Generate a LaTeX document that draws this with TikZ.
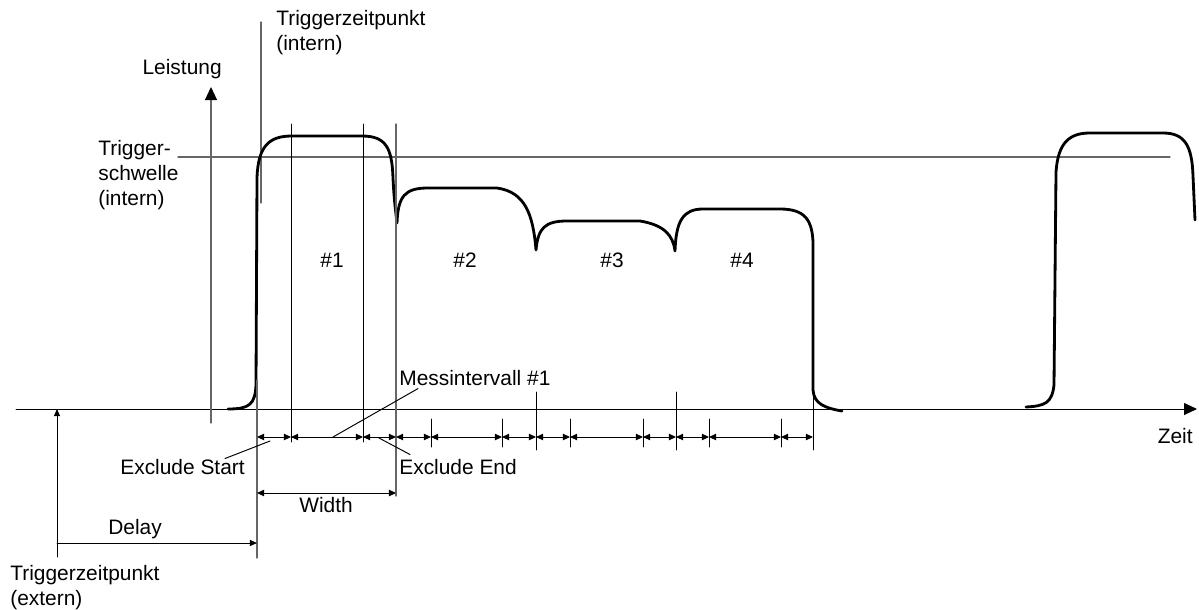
\documentclass[tikz,border=0pt]{standalone}
\usepackage{fontspec}
\setmainfont{Liberation Sans}
\usetikzlibrary{arrows.meta,calc}

\begin{document}
\begin{tikzpicture}[x=0.02cm,y=-0.02cm,line cap=round,line join=round,
		pulse/.style={line width=1.6pt},
		fine/.style={line width=0.55pt},
		greyline/.style={black!60,line width=0.65pt},
		dimarrow/.style={fine,{Triangle[length=4pt,width=3.6pt]}-{Triangle[length=4pt,width=3.6pt]}},
		onearrow/.style={fine,-{Triangle[length=4pt,width=3.4pt]}},
		axisarrow/.style={-{Triangle[length=7.4pt,width=6.8pt,color=black]}},
		lbl/.style={font=\fontsize{11.9}{14.2}\selectfont,inner sep=0pt}]
		\useasboundingbox (0,0) rectangle (1199,609);
		% axes
		\coordinate (t0) at (16,409);
		\coordinate (t1) at (1197,409);
		\coordinate (p0) at (211,423);
		\coordinate (p1) at (211,87);
		\draw[fine,axisarrow] (t0) -- (t1);
		\draw[greyline,axisarrow] (p0) -- (p1);
		\node[lbl,anchor=base east] (leistung) at (222,74) {Leistung};
		\node[lbl,anchor=base east] (zeit) at (1193,443) {Zeit};
		% trigger threshold
		\coordinate (s0) at (178,157);
		\coordinate (s1) at (1170,157);
		\draw[greyline] (s0) -- (s1);
		\node[lbl,anchor=north west,align=left] (schwelle) at (98,140) {Trigger-\\schwelle\\(intern)};
		% internal trigger
		\coordinate (ti0) at (261,22);
		\coordinate (ti1) at (261,203);
		\draw[greyline] (ti0) -- (ti1);
		\node[lbl,anchor=north west,align=left] (tintern) at (276,10) {Triggerzeitpunkt\\(intern)};
		% pulses
		\draw[pulse] (228,409) .. controls (250,409) and (255,404) .. (256,385) -- (257,178)
			.. controls (258,145) and (270,136) .. (292,136) -- (362,136)
			.. controls (386,136) and (392,148) .. (393,178) .. controls (394,200) and (396,214) .. (397,223)
			.. controls (398,196) and (405,188) .. (428,188) -- (497,188)
			.. controls (525,192) and (533,214) .. (536,250)
			.. controls (538,228) and (545,221) .. (567,221) -- (640,221)
			.. controls (664,225) and (673,235) .. (675,251)
			.. controls (676,221) and (683,209) .. (703,209) -- (780,209)
			.. controls (805,209) and (812,220) .. (813,242) -- (813,390)
			.. controls (814,404) and (825,408) .. (842,411);
		\draw[pulse] (1026,407) .. controls (1045,406) and (1052,403) .. (1054,385) -- (1056,172)
			.. controls (1058,142) and (1070,133) .. (1090,133) -- (1163,133)
			.. controls (1185,133) and (1192,146) .. (1193,176) -- (1195,220);
		\node[lbl,anchor=base] (n1) at (332,267) {\#1};
		\node[lbl,anchor=base] (n2) at (465,267) {\#2};
		\node[lbl,anchor=base] (n3) at (612,267) {\#3};
		\node[lbl,anchor=base] (n4) at (742,267) {\#4};
		% measurement lines
		\draw[greyline] (257,380) -- (257,558);
		\draw[fine] (291,124) -- (291,442);
		\draw[fine] (363,124) -- (363,442);
		\draw[greyline] (396,124) -- (396,496);
		\foreach \x in {536,676}
			\draw[fine] (\x,392) -- (\x,450);
		\draw[fine] (813,392) -- (813,450);
		\foreach \x in {431,502,570,643,709,781}
			\draw[fine] (\x,419) -- (\x,447);
		% interval arrows
		\foreach \a/\b in {257/291,291/363,363/396,396/431,431/502,502/536,536/570,570/643,643/676,676/709,709/781,781/813}
			\draw[dimarrow] (\a,437) -- (\b,437);
		\coordinate (w0) at (257,493);
		\coordinate (w1) at (396,493);
		\draw[dimarrow] (w0) -- (w1);
		\node[lbl,anchor=base] (width) at (326,512) {Width};
		% labels with leaders
		\node[lbl,anchor=base west] (exstart) at (120,474) {Exclude Start};
		\node[lbl,anchor=base west] (exend) at (399,474) {Exclude End};
		\node[lbl,anchor=base west] (messint) at (399,385) {Messintervall \#1};
		\coordinate (l1) at (270,441);
		\coordinate (l2) at (379,438);
		\coordinate (l3) at (333,437);
		\draw[fine] ($(exstart.north east)+(-20,0)$) -- (l1);
		\draw[fine] ($(exend.north west)+(11,-4)$) -- (l2);
		\draw[fine] ($(messint.south west)+(19,3)$) -- (l3);
		% external trigger and delay
		\coordinate (te0) at (57,557);
		\coordinate (te1) at (57,409);
		\draw[onearrow] (te0) -- (te1);
		\coordinate (d1) at (257,543);
		\draw[onearrow] (57,543) -- (d1);
		\node[lbl,anchor=base west] (delay) at (108,534) {Delay};
		\node[lbl,anchor=north west,align=left] (textern) at (10,565) {Triggerzeitpunkt\\(extern)};
\end{tikzpicture}
\end{document}
